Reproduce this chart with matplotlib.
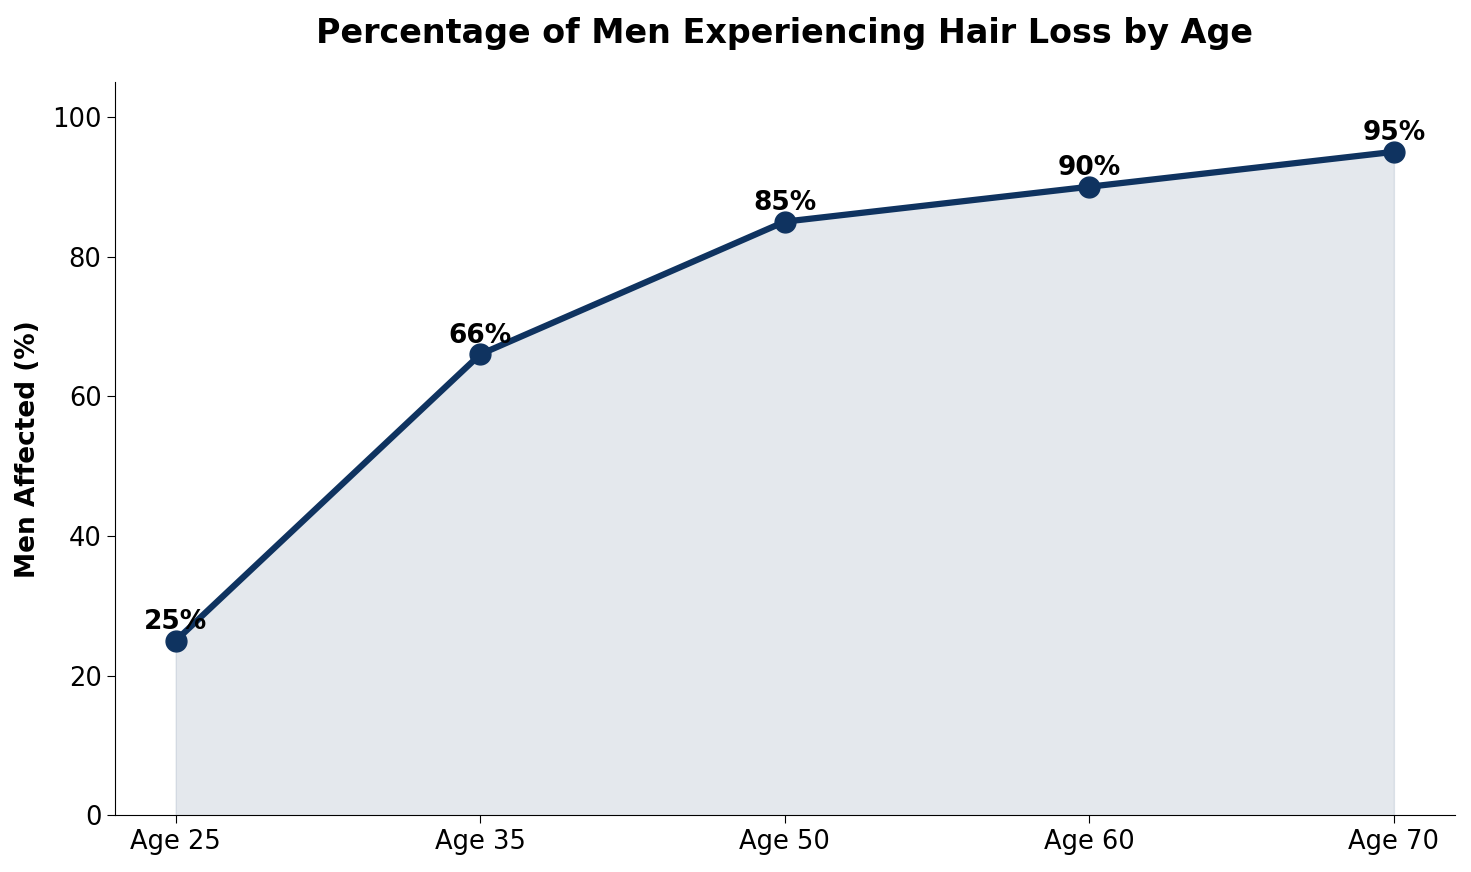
import numpy as np
import matplotlib
matplotlib.use('Agg')
import matplotlib.pyplot as plt

ages = ['Age 25', 'Age 35', 'Age 50', 'Age 60', 'Age 70']
pct = [25, 66, 85, 90, 95]

navy = '#0f3360'
x = np.arange(len(ages))

fig = plt.figure(figsize=(14.71, 8.72), dpi=100)
ax = fig.add_axes([0.078, 0.065, 0.911, 0.841])

ax.fill_between(x, pct, color=navy, alpha=0.11)
ax.plot(x, pct, color=navy, lw=4.5, marker='o', ms=15, zorder=3)

for xi, v in zip(x, pct):
    ax.annotate(f'{v}%', (xi, v), xytext=(0, 4), textcoords='offset points',
                ha='center', va='bottom', fontsize=19, fontweight='bold')

ax.set_xticks(x)
ax.set_xticklabels(ages)
ax.set_xlim(-0.2, 4.2)
ax.set_ylim(0, 105)
ax.tick_params(labelsize=18.5, length=6)
ax.set_ylabel('Men Affected (%)', fontsize=19, fontweight='bold', labelpad=8)
ax.set_title('Percentage of Men Experiencing Hair Loss by Age', fontsize=24,
             fontweight='bold', pad=28)
ax.spines['top'].set_visible(False)
ax.spines['right'].set_visible(False)

fig.savefig('out.png', dpi=100)
